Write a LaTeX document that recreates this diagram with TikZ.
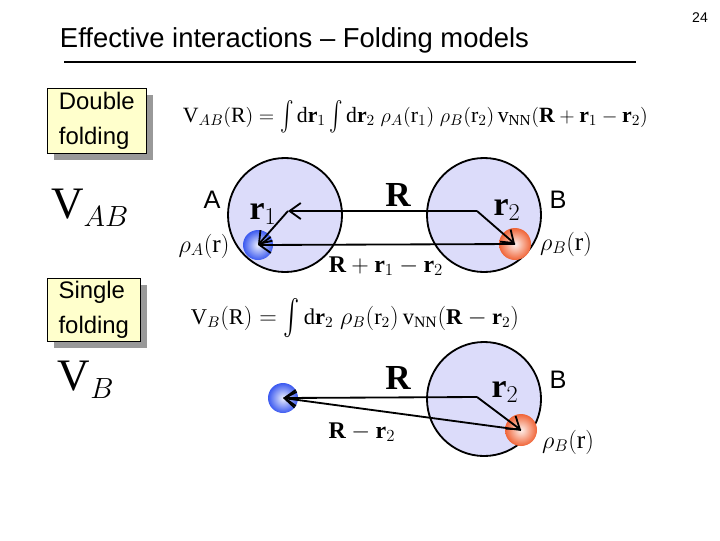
\documentclass[tikz,border=0pt]{standalone}
\usepackage{amsmath}
\usepackage{fontspec}
\setmainfont{Liberation Serif}
\setsansfont{Liberation Sans}
\usepackage{xcolor}
\usetikzlibrary{arrows.meta, shadows}
\definecolor{nucfill}{RGB}{220,220,250}
\definecolor{boxyellow}{RGB}{255,255,204}
\definecolor{blobblue}{RGB}{60,90,240}
\definecolor{bloborange}{RGB}{240,100,55}
\newcommand{\intg}{\mathop{\vcenter{\hbox{\scalebox{1}[1.45]{$\int$}}}}\nolimits}

\begin{document}
\begin{tikzpicture}[x=0.025cm, y=-0.025cm,
    nucleus/.style={circle, draw, line width=1.3pt, fill=nucfill, minimum size=2.85cm, inner sep=0pt},
    blueblob/.style={circle, inner sep=0pt, minimum size=0.75cm, inner color=blobblue!10, outer color=blobblue},
    orangeblob/.style={circle, inner sep=0pt, minimum size=0.8cm, inner color=bloborange!10, outer color=bloborange},
    foldbox/.style={rectangle, draw, fill=boxyellow, anchor=north west, align=left, inner sep=2pt, font=\sffamily\fontsize{17}{25}\selectfont, drop shadow={shadow xshift=4.5pt, shadow yshift=-4.5pt, fill=gray!80, opacity=1}},
    vec/.style={-{Straight Barb[length=2.8mm, width=4mm]}, line width=1.3pt},
    lbl/.style={font=\sffamily\fontsize{18}{20}\selectfont},
    eq/.style={anchor=west, font=\fontsize{15.5}{20}\selectfont},
    vlabel/.style={font=\fontsize{24}{26}\selectfont},
]
\useasboundingbox[fill=white] (0,0) rectangle (720,540);

% title
\node[anchor=base west, font=\sffamily\fontsize{19.5}{22}\selectfont] (title) at (55,47) {Effective interactions -- Folding models};
\draw[line width=1.4pt] (64,62) -- (636,62);
\node[font=\sffamily\fontsize{10}{11}\selectfont] (page) at (700,18) {24};

% double folding
\node[foldbox, minimum width=2.475cm, minimum height=1.625cm] (dbl) at (47,88) {Double\\folding};
\node[eq] (eqAB) at (178,117) {$\mathrm{V}_{AB}(\mathrm{R}) = \intg \mathrm{d}\mathbf{r}_{1} \intg \mathrm{d}\mathbf{r}_{2}\;\rho_{A}(\mathrm{r}_{1})\;\rho_{B}(\mathrm{r}_{2})\,\mathrm{v}_{\mathrm{NN}}(\mathbf{R}+\mathbf{r}_{1}-\mathbf{r}_{2})$};
\node[font=\fontsize{32}{34}\selectfont] (VAB) at (90,208) {$\mathrm{V}_{AB}$};

\node[nucleus] (nucA) at (285,215) {};
\node[nucleus] (nucB) at (484,215) {};
\node[blueblob] (rhoA) at (258,245) {};
\node[orangeblob] (rhoB) at (515,244) {};
\coordinate (oB) at (477,211);
\coordinate (tipA) at (288,211);

\draw[vec] (oB) -- (tipA);
\draw[vec] (tipA) -- (rhoA.center);
\draw[vec] (oB) -- (rhoB.center);
\draw[vec] (rhoB.center) -- (rhoA.center);

\node[lbl] (labA) at (212,200) {A};
\node[lbl] (labB) at (558,200) {B};
\node[font=\bfseries\fontsize{25}{26}\selectfont] (labR) at (398,195) {R};
\node[vlabel] (labr1) at (263,214) {$\mathbf{r}_{1}$};
\node[vlabel] (labr2) at (507,210) {$\mathbf{r}_{2}$};
\node[vlabel, font=\fontsize{17}{20}\selectfont] (labsum) at (386,266) {$\mathbf{R}+\mathbf{r}_{1}-\mathbf{r}_{2}$};
\node[vlabel, font=\fontsize{18}{20}\selectfont] (labrhoA) at (204,246) {$\rho_{A}(\mathrm{r})$};
\node[vlabel, font=\fontsize{18}{20}\selectfont] (labrhoB) at (566,244) {$\rho_{B}(\mathrm{r})$};

% single folding
\node[foldbox, minimum width=2.325cm, minimum height=1.575cm] (sgl) at (47,278) {Single\\folding};
\node[eq, font=\fontsize{16}{20}\selectfont] (eqB) at (186,318) {$\mathrm{V}_{B}(\mathrm{R}) = \intg \mathrm{d}\mathbf{r}_{2}\;\rho_{B}(\mathrm{r}_{2})\,\mathrm{v}_{\mathrm{NN}}(\mathbf{R}-\mathbf{r}_{2})$};
\node[font=\fontsize{32}{34}\selectfont] (VB) at (86,380) {$\mathrm{V}_{B}$};

\node[nucleus] (nucB2) at (484,399) {};
\node[blueblob] (probe) at (283,398) {};
\node[orangeblob] (rhoB2) at (521,430) {};
\coordinate (oB2) at (477,397);

\draw[vec] (oB2) -- (probe.center);
\draw[vec] (oB2) -- (rhoB2.center);
\draw[vec] (rhoB2.center) -- (probe.center);

\node[lbl] (labB2) at (558,380) {B};
\node[font=\bfseries\fontsize{25}{26}\selectfont] (labR2) at (398,378) {R};
\node[vlabel] (labr2b) at (505,392) {$\mathbf{r}_{2}$};
\node[vlabel, font=\fontsize{17}{20}\selectfont] (labdiff) at (362,432) {$\mathbf{R}-\mathbf{r}_{2}$};
\node[vlabel, font=\fontsize{18}{20}\selectfont] (labrhoB2) at (568,442) {$\rho_{B}(\mathrm{r})$};
\end{tikzpicture}
\end{document}
